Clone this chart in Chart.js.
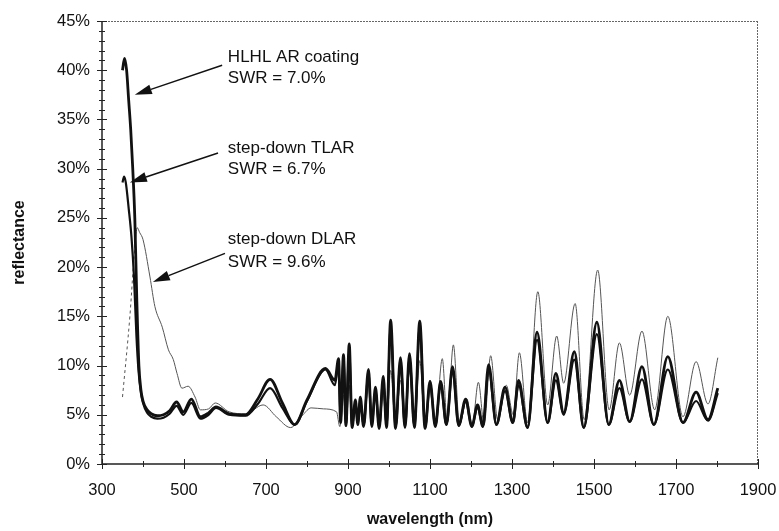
<!DOCTYPE html>
<html>
<head>
<meta charset="utf-8">
<script src="https://cdn.jsdelivr.net/npm/chart.js@4.4.1/dist/chart.umd.min.js"></script>
<style>
  html, body { margin: 0; padding: 0; background: #fff; }
  #wrap { width: 779px; height: 531px; position: relative; }
</style>
</head>
<body>
<div id="wrap"><canvas id="c" width="779" height="531"></canvas></div>
<script>
// ---- data (wavelength in nm, reflectance in %) ----
const hlhlWl = [350,355,360,365,370,375,380,385,390,395,400,410,420,435,450,465,482,498,518,540,560,578,610,650,680,710,740,770,800,845,868,
  877,882,889,895,903,910,918,924,930,938,950,958,967,976,986,994,1004,1016,1028,1039,1050,1062,1075,1088,1100,1113,1126,1140,1155,1170,1187,1202,1216,1229,1243,1262,1283,1302,1316,1338,1361,1387,1407,1426,1452,1475,1507,1536,1562,1587,1617,1646,1680,1717,1749,1778,1802];
const hlhlR = [40.0,41.2,40.0,37.0,34.0,30.0,25.0,16.5,10.0,7.5,6.4,5.5,5.1,4.9,5.0,5.4,6.3,5.3,6.6,4.8,5.2,5.8,5.1,5.0,6.6,8.6,6.2,4.0,6.5,9.7,8.5,
  10.7,4.2,11.1,3.9,12.2,3.7,6.5,4.0,6.8,3.8,9.6,3.8,7.8,3.6,8.9,3.7,14.6,3.6,10.8,3.7,11.2,3.7,14.5,3.6,8.4,3.8,8.4,4.0,9.9,3.9,6.6,3.8,6.0,3.8,10.1,4.0,7.8,4.2,8.5,3.7,13.4,4.2,9.2,5.2,11.4,3.7,14.4,4.0,8.5,4.3,9.9,4.0,10.9,4.2,7.3,4.5,7.7];

const tlarWl = [350,354,358,365,372,378,384,389,395,400,410,420,435,450,465,482,498,518,540,560,578,610,650,680,710,740,770,800,845,868,
  877,882,889,895,903,910,918,924,930,938,950,958,967,976,986,994,1004,1016,1028,1039,1050,1062,1075,1088,1100,1113,1126,1140,1155,1170,1187,1202,1216,1229,1243,1262,1283,1302,1316,1338,1361,1387,1407,1426,1452,1475,1507,1536,1562,1587,1617,1646,1680,1717,1749,1778,1802];
const tlarR = [28.6,29.2,28.6,26.0,23.0,19.0,13.0,9.5,7.2,6.2,5.2,4.8,4.6,4.7,5.1,5.9,5.0,6.2,4.6,5.0,5.7,5.0,4.9,6.1,7.7,5.7,4.0,6.4,9.6,8.0,
  10.2,4.4,10.6,4.0,11.5,3.8,6.3,4.1,6.5,3.9,9.2,3.9,7.5,3.7,8.6,3.8,14.0,3.7,10.4,3.8,10.8,3.8,14.0,3.7,8.1,3.9,8.1,4.0,9.5,3.9,6.4,3.8,5.8,3.8,9.6,4.0,7.4,4.2,8.0,3.7,12.6,4.2,8.5,5.0,10.6,3.7,13.2,4.0,7.7,4.3,8.6,4.0,9.6,4.2,6.4,4.4,7.2];

const dlarWl = [350,368,380,386,392,400,417,429,447,462,474,483,495,510,527,540,560,576,610,650,693,725,760,790,810,840,872,
  880,889,895,903,910,918,924,930,938,950,958,967,976,986,994,1004,1016,1028,1039,1050,1062,1075,1088,1100,1113,1130,1142,1157,1172,1190,1203,1218,1232,1248,1265,1286,1303,1318,1338,1363,1387,1409,1426,1454,1476,1509,1537,1562,1587,1617,1648,1680,1717,1749,1778,1802];
const dlarR = [6.8,15.0,22.0,24.0,23.5,22.8,19.0,16.0,13.9,11.6,10.6,9.2,7.7,7.9,6.8,5.5,5.6,6.2,5.3,5.1,6.0,4.8,3.7,5.0,5.7,5.6,5.3,
  3.8,7.0,3.8,8.0,3.8,6.0,4.2,6.0,4.0,8.0,4.0,7.0,3.8,7.5,3.8,9.5,3.8,8.5,3.8,9.5,3.8,10.5,3.8,8.5,4.0,10.7,4.2,12.1,4.0,6.6,3.9,8.3,4.0,11.0,4.5,8.0,5.0,11.3,4.2,17.5,6.0,13.0,8.2,16.3,4.5,19.7,5.5,12.3,7.0,13.5,5.5,15.0,4.8,10.4,6.1,10.8];

const xTicks = [300,500,700,900,1100,1300,1500,1700,1900];
const yTicks = [0,5,10,15,20,25,30,35,40,45];

const notes = [
  { lines: ['HLHL AR coating', 'SWR = 7.0%'], textAt: [607, 41.3, 39.2], from: [593, 40.5], to: [380, 37.5] },
  { lines: ['step-down TLAR', 'SWR = 6.7%'], textAt: [607, 32.1, 29.9], from: [583, 31.6], to: [368, 28.6] },
  { lines: ['step-down DLAR', 'SWR = 9.6%'], textAt: [607, 22.8, 20.5], from: [600, 21.4], to: [424, 18.5] }
];

const pts = (xs, ys) => xs.map((x, i) => ({ x: x, y: ys[i] }));

const FONT = "'Liberation Sans', Arial, sans-serif";

const framePlugin = {
  id: 'frame',
  afterDatasetsDraw(chart) {
    const { ctx, chartArea: a, scales: { x, y } } = chart;
    ctx.save();
    // top and right dotted border
    ctx.strokeStyle = '#666';
    ctx.lineWidth = 1;
    ctx.setLineDash([2, 1]);
    ctx.beginPath();
    ctx.moveTo(a.left, a.top + 0.5); ctx.lineTo(a.right, a.top + 0.5);
    ctx.moveTo(a.right - 0.5, a.top); ctx.lineTo(a.right - 0.5, a.bottom);
    ctx.stroke();
    ctx.setLineDash([]);
    // left and bottom axis lines
    ctx.strokeStyle = '#222';
    ctx.lineWidth = 1.5;
    ctx.beginPath();
    ctx.moveTo(a.left, a.top); ctx.lineTo(a.left, a.bottom);
    ctx.moveTo(a.left, a.bottom); ctx.lineTo(a.right, a.bottom);
    ctx.stroke();
    // ticks
    ctx.lineWidth = 1;
    ctx.beginPath();
    for (let v = 0; v <= 45; v++) {
      const py = Math.round(y.getPixelForValue(v)) + 0.5;
      const major = v % 5 === 0;
      ctx.moveTo(a.left - (major ? 5 : 3), py);
      ctx.lineTo(a.left + (major ? 5 : 3), py);
    }
    for (let v = 300; v <= 1900; v += 100) {
      const px = Math.round(x.getPixelForValue(v)) + 0.5;
      const major = (v - 300) % 200 === 0;
      ctx.moveTo(px, a.bottom - (major ? 5 : 3));
      ctx.lineTo(px, a.bottom + (major ? 5 : 3));
    }
    ctx.stroke();
    // annotations
    ctx.fillStyle = '#111';
    ctx.strokeStyle = '#111';
    ctx.font = '17px ' + FONT;
    ctx.textBaseline = 'middle';
    ctx.textAlign = 'left';
    notes.forEach(n => {
      const tx = x.getPixelForValue(n.textAt[0]);
      ctx.fillText(n.lines[0], tx, y.getPixelForValue(n.textAt[1]));
      ctx.fillText(n.lines[1], tx, y.getPixelForValue(n.textAt[2]));
      const x1 = x.getPixelForValue(n.from[0]), y1 = y.getPixelForValue(n.from[1]);
      const x2 = x.getPixelForValue(n.to[0]), y2 = y.getPixelForValue(n.to[1]);
      const ang = Math.atan2(y2 - y1, x2 - x1);
      const L = 17, W = 5;
      const bx = x2 - L * Math.cos(ang), by = y2 - L * Math.sin(ang);
      ctx.lineWidth = 1.5;
      ctx.beginPath();
      ctx.moveTo(x1, y1); ctx.lineTo(bx, by);
      ctx.stroke();
      ctx.beginPath();
      ctx.moveTo(x2, y2);
      ctx.lineTo(bx + W * Math.sin(ang), by - W * Math.cos(ang));
      ctx.lineTo(bx - W * Math.sin(ang), by + W * Math.cos(ang));
      ctx.closePath();
      ctx.fill();
    });
    ctx.restore();
  }
};

new Chart(document.getElementById('c'), {
  type: 'line',
  data: {
    datasets: [
      { label: 'HLHL AR coating', data: pts(hlhlWl, hlhlR), borderColor: '#111', borderWidth: 2.8 },
      { label: 'step-down TLAR', data: pts(tlarWl, tlarR), borderColor: '#111', borderWidth: 2.2 },
      { label: 'step-down DLAR', data: pts(dlarWl, dlarR), borderColor: '#555', borderWidth: 1,
        segment: { borderDash: c => (c.p0DataIndex < 2 ? [3, 3] : undefined) } }
    ]
  },
  options: {
    responsive: false,
    animation: false,
    devicePixelRatio: 1,
    layout: { padding: { top: 21, right: 21, left: 0, bottom: 0 } },
    elements: { point: { radius: 0 }, line: { cubicInterpolationMode: 'monotone', fill: false } },
    plugins: { legend: { display: false }, tooltip: { enabled: false } },
    scales: {
      x: {
        type: 'linear', min: 300, max: 1900,
        afterBuildTicks: s => { s.ticks = xTicks.map(v => ({ value: v })); },
        afterFit: s => { s.height = 67; s.paddingLeft = 0; s.paddingRight = 0; },
        grid: { display: false, drawTicks: false },
        border: { display: false },
        ticks: { padding: 17, color: '#111', font: { family: FONT, size: 16.5 }, maxRotation: 0, autoSkip: false, callback: v => String(v) },
        title: { display: true, text: 'wavelength (nm)', color: '#111', font: { family: FONT, size: 16, weight: 'bold' }, padding: { top: 0, bottom: 2 } }
      },
      y: {
        min: 0, max: 45,
        afterBuildTicks: s => { s.ticks = yTicks.map(v => ({ value: v })); },
        afterFit: s => { s.width = 102; s.paddingTop = 0; s.paddingBottom = 0; },
        grid: { display: false, drawTicks: false },
        border: { display: false },
        ticks: { padding: 12, color: '#111', font: { family: FONT, size: 16.5 }, callback: v => v + '%' },
        title: { display: true, text: 'reflectance', color: '#111', font: { family: FONT, size: 16, weight: 'bold' }, padding: { top: 10, bottom: 0 } }
      }
    }
  },
  plugins: [framePlugin]
});
</script>
</body>
</html>
